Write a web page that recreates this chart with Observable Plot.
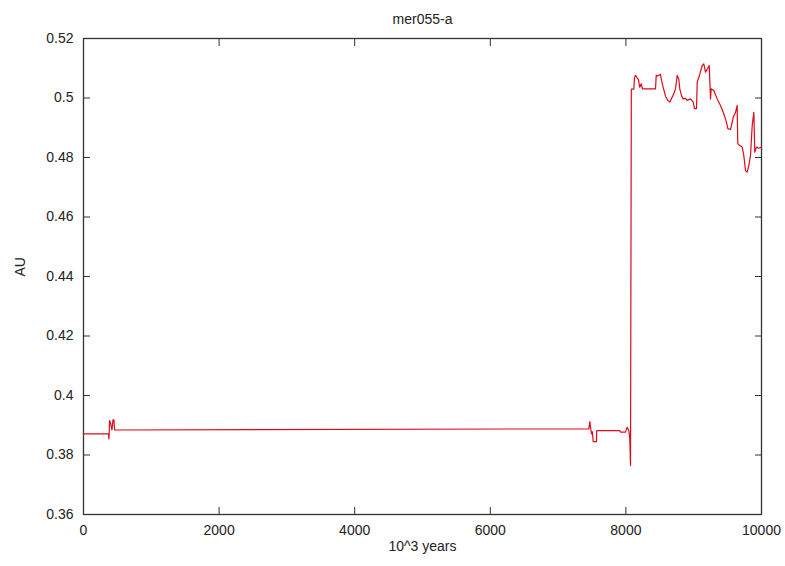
<!DOCTYPE html>
<html><head><meta charset="utf-8">
<script src="https://cdn.jsdelivr.net/npm/d3@7"></script>
<script src="https://cdn.jsdelivr.net/npm/@observablehq/plot@0.6"></script>
<style>body{margin:0;background:#fff} svg{font-family:"Liberation Sans",Arial,sans-serif}</style>
</head><body><div id="chart"></div>
<script>
const title = "mer055-a";
const xLabel = "10^3 years";
const yLabel = "AU";
const xTicks = [0, 2000, 4000, 6000, 8000, 10000];
const yTicks = [0.36, 0.38, 0.40, 0.42, 0.44, 0.46, 0.48, 0.50, 0.52];
const years = [0, 370, 375, 385, 400, 420, 435, 448, 460, 7453, 7468, 7478, 7493, 7505, 7518, 7566, 7570, 7910, 7920, 7994, 8019, 8043, 8058, 8068, 8080,
  8100, 8117, 8127, 8142, 8167, 8186, 8200, 8205, 8226, 8245, 8437, 8447, 8470, 8510, 8525, 8550, 8584, 8618, 8648, 8683, 8707, 8732, 8757, 8780, 8795, 8820, 8845, 8879, 8904, 8953, 8993, 9012, 9041, 9052, 9090, 9125, 9149, 9174, 9208, 9229, 9248, 9258, 9296, 9347, 9395, 9444, 9484, 9503, 9543, 9583, 9617, 9641, 9650, 9680, 9715, 9739, 9764, 9789, 9813, 9838, 9863, 9887, 9901, 9926, 9960, 10000];
const au = [0.3871, 0.3871, 0.3854, 0.3916, 0.3906, 0.3884, 0.3918, 0.3918, 0.3884, 0.3888, 0.3912, 0.3893, 0.3871, 0.3878, 0.3845, 0.3845, 0.3882, 0.3882, 0.3877, 0.3877, 0.3893, 0.3882, 0.3854, 0.3765, 0.5030,
  0.5030, 0.5030, 0.5070, 0.5076, 0.5067, 0.5062, 0.5040, 0.5036, 0.5048, 0.5031, 0.5031, 0.5076, 0.5074, 0.5080, 0.5059, 0.5036, 0.5006, 0.4992, 0.4986, 0.5003, 0.5014, 0.5031, 0.5076, 0.5064, 0.5031, 0.5008, 0.4997, 0.4999, 0.4992, 0.4997, 0.4986, 0.4964, 0.4964, 0.5053, 0.5080, 0.5109, 0.5115, 0.5087, 0.5100, 0.5109, 0.4997, 0.5031, 0.5025, 0.4997, 0.4975, 0.4947, 0.4918, 0.4897, 0.4894, 0.4935, 0.4952, 0.4975, 0.4846, 0.4840, 0.4835, 0.4807, 0.4756, 0.4751, 0.4773, 0.4807, 0.4908, 0.4952, 0.4818, 0.4835, 0.4831, 0.4835];

const data = years.map((t, i) => ({t, v: au[i]}));
const fmtY = d => String(+d.toFixed(2));
const blank = () => "";
const frameColor = "#333";

const chart = Plot.plot({
  width: 785, height: 566,
  marginLeft: 83, marginRight: 24, marginTop: 38, marginBottom: 52,
  style: {fontFamily: '"Liberation Sans", Arial, sans-serif', fontSize: "14px", color: "#222", background: "#fff"},
  x: {domain: [0, 10000]},
  y: {domain: [0.36, 0.52]},
  marks: [
    Plot.frame({stroke: frameColor, strokeWidth: 1.3}),
    Plot.axisX({ticks: xTicks, tickSize: -7, tickPadding: 18, tickFormat: d => String(d), label: null, stroke: frameColor}),
    Plot.axisX({anchor: "top", ticks: xTicks, tickSize: -7, tickFormat: blank, label: null, stroke: frameColor}),
    Plot.axisY({ticks: yTicks, tickSize: -7, tickPadding: 17, tickFormat: fmtY, label: null, stroke: frameColor}),
    Plot.axisY({anchor: "right", ticks: yTicks, tickSize: -7, tickFormat: blank, label: null, stroke: frameColor}),
    Plot.line(data, {x: "t", y: "v", stroke: "#dd0a1a", strokeWidth: 1.2}),
    Plot.text([title], {frameAnchor: "top", dy: -24, fontSize: 14, fill: "#222"}),
    Plot.text([xLabel], {frameAnchor: "bottom", dy: 36, fontSize: 14, fill: "#222"}),
    Plot.text([yLabel], {frameAnchor: "left", dx: -63, rotate: -90, fontSize: 14, fill: "#222"})
  ]
});
document.getElementById("chart").append(chart);
</script>
</body></html>
